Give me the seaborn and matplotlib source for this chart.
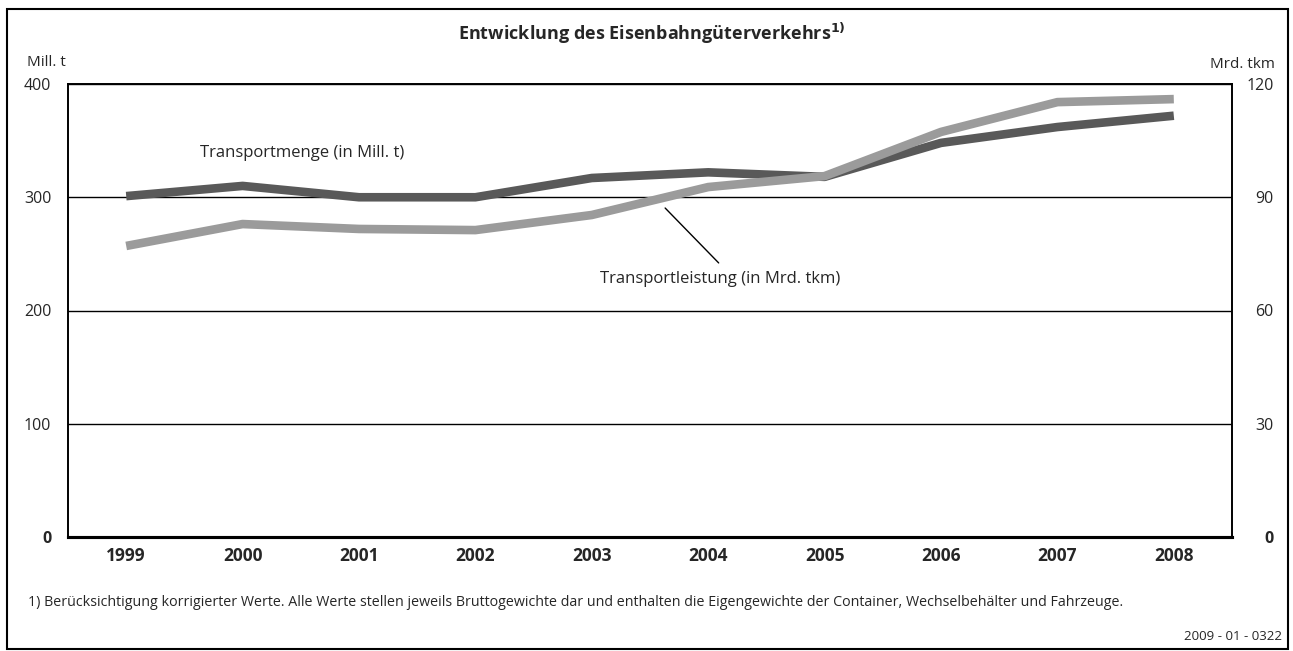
import pandas as pd
import numpy as np
import seaborn as sns
import matplotlib.pyplot as plt
from matplotlib.patches import Rectangle

# values
years = ['1999', '2000', '2001', '2002', '2003', '2004', '2005', '2006', '2007', '2008']
transportmenge = [301, 310, 300, 300, 317, 322, 318, 348, 362, 372]       # Mill. t (left axis)
transportleistung = [77.1, 82.9, 81.6, 81.3, 85.3, 92.7, 95.6, 107.3, 115.2, 116.0]  # Mrd. tkm (right axis)
left_ticks = [0, 100, 200, 300, 400]
right_ticks = [0, 30, 60, 90, 120]

df = pd.DataFrame({'Jahr': years, 'Menge': transportmenge, 'Leistung': transportleistung})

sns.set_style('white')
plt.rcParams['font.family'] = ['Open Sans', 'DejaVu Sans']

fig = plt.figure(figsize=(12.93, 6.51), dpi=100)
ax = fig.add_axes([68 / 1293, 1 - 537 / 651, (1232 - 68) / 1293, (537 - 84) / 651])
ax2 = ax.twinx()

dark = '#595959'
light = '#9b9b9b'
sns.lineplot(data=df, x='Jahr', y='Menge', ax=ax, color=dark, lw=6.2, solid_capstyle='butt', zorder=3)
sns.lineplot(data=df, x='Jahr', y='Leistung', ax=ax2, color=light, lw=6.2, solid_capstyle='butt', zorder=3)

# axes ranges / ticks
ax.set_xlim(-0.5, len(years) - 0.5)
ax.set_ylim(0, 400)
ax2.set_ylim(0, 120)
ax.set_xticks(range(len(years)))
ax.set_xticklabels(years, fontsize=12.5, fontweight='bold')
ax.set_xticks(np.arange(-0.5, len(years), 1), minor=True)
ax.tick_params(axis='x', which='major', length=0, pad=7)
ax.tick_params(axis='x', which='minor', length=6, width=1.5, color='black', direction='out')
ax.set_yticks(left_ticks)
ax.set_yticklabels([str(t) for t in left_ticks], fontsize=11.5)
ax.tick_params(axis='y', length=0, pad=12)
ax2.set_yticks(right_ticks)
ax2.set_yticklabels([str(t) for t in right_ticks], fontsize=11.5)
ax2.tick_params(axis='y', length=0, pad=30)
for lab in ax2.get_yticklabels():
    lab.set_ha('right')
ax.get_yticklabels()[0].set_fontweight('bold')
ax2.get_yticklabels()[0].set_fontweight('bold')
ax.set_xlabel('')
ax.set_ylabel('')
ax2.set_ylabel('')

# grid lines and frame
ax.yaxis.grid(True, color='black', lw=1)
ax.set_axisbelow(True)
for a in (ax, ax2):
    for side in ['left', 'right', 'top']:
        a.spines[side].set_color('black')
        a.spines[side].set_linewidth(1.2)
    a.spines['bottom'].set_color('black')
    a.spines['bottom'].set_linewidth(2.2)

# series labels
ax.text(1.51, 339, 'Transportmenge (in Mill. t)', fontsize=12, ha='center', va='center')
ax.plot([4.63, 5.09], [290.5, 242], color='black', lw=1)
ax.text(5.1, 228, 'Transportleistung (in Mrd. tkm)', fontsize=12, ha='center', va='center')

# unit labels, title, footnotes
fig.text(27 / 1293, 1 - 63 / 651, 'Mill. t', fontsize=11, ha='left', va='center')
fig.text(1275 / 1293, 1 - 64 / 651, 'Mrd. tkm', fontsize=11, ha='right', va='center')
fig.text(652 / 1293, 1 - 33 / 651, r'Entwicklung des Eisenbahngüterverkehrs$^{\mathbf{1)}}$',
         fontsize=13, fontweight='bold', ha='center', va='center')
fig.text(28 / 1293, 1 - 602 / 651,
         '1) Berücksichtigung korrigierter Werte. Alle Werte stellen jeweils Bruttogewichte dar '
         'und enthalten die Eigengewichte der Container, Wechselbehälter und Fahrzeuge.',
         fontsize=10.3, ha='left', va='center')
fig.text(1282 / 1293, 1 - 637 / 651, '2009 - 01 - 0322', fontsize=9.5, ha='right', va='center')

fig.patches.append(Rectangle((7 / 1293, 2 / 651), (1288 - 7) / 1293, (649 - 9) / 651,
                             transform=fig.transFigure, fill=False, edgecolor='black', lw=1.5))

fig.savefig('out.png', dpi=100)
